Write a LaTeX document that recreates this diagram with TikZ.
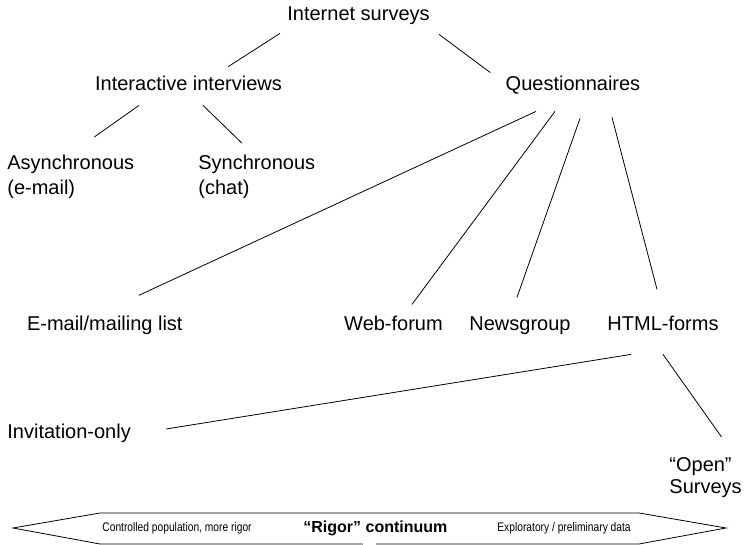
\documentclass[tikz,border=0pt]{standalone}
\usepackage{fontspec}
\setmainfont{Liberation Sans}
\usepackage{graphicx}
\usepackage{tikz}

\begin{document}
\begin{tikzpicture}[x=1pt,y=1pt,line width=0.8pt,
  lbl/.style={inner sep=0pt,font=\fontsize{20}{25}\selectfont,text height=14.5pt,text depth=4pt},
  stack/.style={inner sep=0pt,font=\fontsize{20}{25}\selectfont,align=left,anchor=north west},
  small/.style={inner sep=0pt,anchor=west,font=\fontsize{12.5}{14}\selectfont}]
\useasboundingbox (0,0) rectangle (746,545);
% draws labels
\node[lbl] (inet) at (358.5,530) {Internet surveys};
\node[lbl] (inter) at (188.5,460) {Interactive interviews};
\node[lbl] (qs) at (573,460) {Questionnaires};
\node[stack] (async) at (7,390) {Asynchronous\\(e-mail)};
\node[stack] (sync) at (198,390) {Synchronous\\(chat)};
\node[lbl] (email) at (104.8,220) {E-mail/mailing list};
\node[lbl] (web) at (393.5,220) {Web-forum};
\node[lbl] (news) at (520,220) {Newsgroup};
\node[lbl] (html) at (663,220) {HTML-forms};
\node[lbl,anchor=west] (invite) at (7,112) {Invitation-only};
\node[stack] (open) at (669,88) {“Open”\\[-3pt]Surveys};
% draws edges
\draw ([shift={(-7,-8.75)}]inet.south west) -- ([shift={(-54,8.75)}]inter.north east);
\draw ([shift={(9,-9.75)}]inet.south east) -- ([shift={(-15,2.75)}]qs.north west);
\draw ([shift={(-49.5,-10.75)}]inter.south) -- ([shift={(23.5,18)}]async.north);
\draw ([shift={(14.5,-10.75)}]inter.south) -- ([shift={(-15,12)}]sync.north);
\draw ([shift={(-37,-16.75)}]qs.south) -- ([shift={(34,20)}]email.north);
\draw ([shift={(-18,-16.75)}]qs.south) -- ([shift={(18.5,11)}]web.north);
\draw ([shift={(7,-23.75)}]qs.south) -- ([shift={(-3,18)}]news.north);
\draw ([shift={(39,-22.75)}]qs.south) -- ([shift={(-6,26)}]html.north);
\draw ([shift={(-32,-19.75)}]html.south) -- ([shift={(35,4)}]invite.east);
\draw ([shift={(0,-19.75)}]html.south) -- ([shift={(16,20)}]open.north);
% draws the continuum arrow
\draw (368,32) -- (100,32) -- (13,17) -- (100,1) -- (363,1);
\draw (368,32) -- (639,32) -- (726,17) -- (639,1) -- (376,1);
\node[small] (ctrl) at (102,17) {\scalebox{0.82}[1]{Controlled population, more rigor}};
\node[small,font=\bfseries\fontsize{16}{18}\selectfont] (rigor) at (303,17) {“Rigor” continuum};
\node[small] (expl) at (497,17) {\scalebox{0.82}[1]{Exploratory / preliminary data}};
\end{tikzpicture}
\end{document}
